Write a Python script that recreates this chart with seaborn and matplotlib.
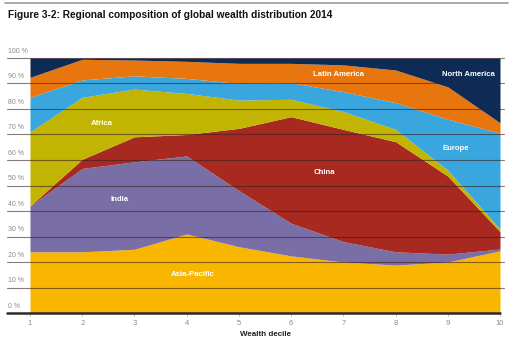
import matplotlib
matplotlib.use("Agg")
import matplotlib.pyplot as plt
import seaborn as sns
import numpy as np
import pandas as pd

deciles = [1, 2, 3, 4, 5, 6, 7, 8, 9, 10]
asia_pacific = [24, 24, 25, 31, 26, 22.4, 20, 18.8, 20, 24.4]
india = [18, 32.7, 34.3, 30.6, 22, 12.8, 8, 5.2, 3.1, 0.7]
china = [0, 3.6, 9.8, 8.4, 24.4, 41.8, 44, 43.2, 30.6, 6.8]
africa = [29, 24.3, 18.7, 16.1, 11.1, 6.8, 7, 4.8, 2.3, 1.1]
europe = [13.6, 6.8, 5.2, 5.9, 6.5, 6.5, 7.8, 10.5, 20, 37.5]
latin_america = [7.8, 8.1, 6.2, 6.7, 7.9, 7.6, 10.5, 12.8, 12.7, 4.1]
north_america = [7.6, 0.5, 0.8, 1.3, 2.1, 2.1, 2.7, 4.7, 11.3, 25.4]

regions = ["Asia-Pacific", "India", "China", "Africa", "Europe", "Latin America", "North America"]
y_ticks = [0, 10, 20, 30, 40, 50, 60, 70, 80, 90, 100]
y_tick_labels = ["0 %", "10 %", "20 %", "30 %", "40 %", "50 %", "60 %", "70 %", "80 %", "90 %", "100 %"]
title = "Figure 3-2: Regional composition of global wealth distribution 2014"
x_label = "Wealth decile"

sns.set_theme(style="white")
plt.rcParams["font.family"] = ["Liberation Sans", "DejaVu Sans"]

df = pd.DataFrame({
    "decile": deciles,
    "Asia-Pacific": asia_pacific,
    "India": india,
    "China": china,
    "Africa": africa,
    "Europe": europe,
    "Latin America": latin_america,
    "North America": north_america,
})

palette = sns.color_palette(["#F8B600", "#7A6EA6", "#A7291F", "#C2B402",
                             "#3AA6DE", "#E8760F", "#0D2B55"])

fig = plt.figure(figsize=(5.2, 3.46), dpi=100)
ax = fig.add_axes([30 / 520, 33 / 346, 470 / 520, 255 / 346])

ax.stackplot(df["decile"], *[df[r] for r in regions], colors=palette, linewidth=0)
ax.set_xlim(1, 10)
ax.set_ylim(0, 100)

tr = ax.get_yaxis_transform()
for yv, lab in zip(y_ticks, y_tick_labels):
    if yv == 0:
        ax.plot([-0.049, 1.0], [0, 0], transform=tr, color="#2a2a2a", lw=1.8,
                clip_on=False, zorder=5)
    else:
        ax.plot([-0.049, 1.008], [yv, yv], transform=tr, color="#3a2020", alpha=0.6,
                lw=0.8, clip_on=False, zorder=4)
    ax.text(-0.047, yv + 1.2, lab, transform=tr, fontsize=5, color="#8a8a8a",
            ha="left", va="bottom")

ax.set_xticks(deciles)
ax.set_xticklabels([str(d) for d in deciles], fontsize=5.5, color="#8a8a8a")
ax.tick_params(axis="x", length=2, width=0.5, color="#999999", pad=3, bottom=True)
ax.set_yticks([])
for s in ax.spines.values():
    s.set_visible(False)

ax.set_xlabel(x_label, fontsize=5.8, fontweight="bold", color="#222222", labelpad=3)

label_pos = {
    "Africa": (2.38, 74.5),
    "India": (2.72, 44.5),
    "China": (6.63, 55),
    "Asia-Pacific": (4.12, 15),
    "Latin America": (6.9, 93.7),
    "North America": (9.39, 93.7),
    "Europe": (9.16, 64.7),
}
for name, (xx, yy) in label_pos.items():
    ax.text(xx, yy, name, color="white", fontsize=5.6, fontweight="bold",
            ha="center", va="center", zorder=6)

fig.text(8 / 520, 1 - 15 / 346, title, fontsize=7.3, fontweight="bold",
         color="#111111", ha="left", va="center")
fig.add_artist(plt.Line2D([5 / 520, 508 / 520], [1 - 3 / 346, 1 - 3 / 346],
                          color="#999999", lw=1.2))

fig.savefig("out.png", dpi=100)
